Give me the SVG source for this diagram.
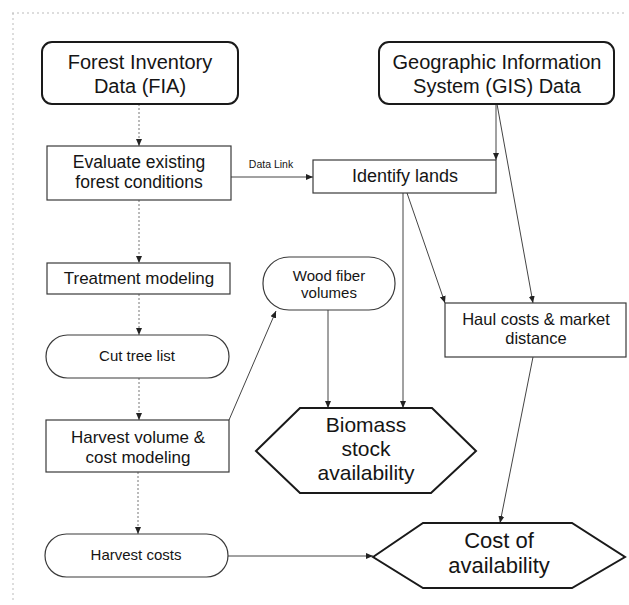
<svg xmlns="http://www.w3.org/2000/svg" width="629" height="605" viewBox="0 0 629 605">
<defs>
<style>
.t{font-family:"Liberation Sans",Arial,sans-serif;fill:#151515;text-anchor:middle}
.big{stroke:#1a1a1a;stroke-width:2;fill:#fff}
.box{stroke:#3a3a3a;stroke-width:1.2;fill:#fff}
.ln{stroke:#444;stroke-width:1;fill:none}
.dot{stroke:#777;stroke-width:1;stroke-dasharray:2,2;fill:none}
.frame{stroke:#bbb;stroke-width:1;stroke-dasharray:2,3;fill:none}
</style>
<marker id="ah" markerWidth="8" markerHeight="8" refX="7" refY="4" orient="auto" markerUnits="userSpaceOnUse">
<path d="M0,1 L7,4 L0,7 Z" fill="#222"/>
</marker>
</defs>
<rect width="629" height="605" fill="#fff"/>
<path class="frame" d="M12,13 L626,13 M13,13 L13,602"/>

<g id="connectors">
<path class="dot" d="M139,104 L139,146" marker-end="url(#ah)"/>
<path class="ln" d="M231,177 L313,177" marker-end="url(#ah)"/>
<text class="t" x="271" y="168" font-size="10.5">Data Link</text>
<path class="ln" d="M496,104 L496,160" marker-end="url(#ah)"/>
<path class="ln" d="M497,104 L533,303" marker-end="url(#ah)"/>
<path class="ln" d="M407,193 L445,303" marker-end="url(#ah)"/>
<path class="ln" d="M403,193 L403,408" marker-end="url(#ah)"/>
<path class="dot" d="M139,200 L139,263" marker-end="url(#ah)"/>
<path class="dot" d="M139,294 L139,335" marker-end="url(#ah)"/>
<path class="dot" d="M139,378 L139,420" marker-end="url(#ah)"/>
<path class="ln" d="M229,420 L276,311" marker-end="url(#ah)"/>
<path class="ln" d="M328,310 L328,408" marker-end="url(#ah)"/>
<path class="dot" d="M138,472 L138,534" marker-end="url(#ah)"/>
<path class="ln" d="M228,556 L373,556" marker-end="url(#ah)"/>
<path class="ln" d="M533,357 L500,523" marker-end="url(#ah)"/>
</g>

<g id="fia">
<rect class="big" x="42" y="42" width="196" height="62" rx="10"/>
<text class="t" x="140" y="69" font-size="20">Forest Inventory</text>
<text class="t" x="140" y="93" font-size="20">Data (FIA)</text>
</g>
<g id="gis">
<rect class="big" x="379" y="42" width="235" height="62" rx="10"/>
<text class="t" x="497" y="69" font-size="20">Geographic Information</text>
<text class="t" x="497" y="93" font-size="20">System (GIS) Data</text>
</g>
<g id="evaluate">
<rect class="box" x="47" y="146" width="184" height="54"/>
<text class="t" x="139" y="168" font-size="17.5">Evaluate existing</text>
<text class="t" x="139" y="188" font-size="17.5">forest conditions</text>
</g>
<g id="identify">
<rect class="box" x="313" y="160" width="183" height="33"/>
<text class="t" x="405" y="182" font-size="18">Identify lands</text>
</g>
<g id="treatment">
<rect class="box" x="47" y="263" width="183" height="31"/>
<text class="t" x="139" y="284" font-size="17">Treatment modeling</text>
</g>
<g id="cuttree">
<rect class="box" x="46" y="335" width="183" height="43" rx="21.5"/>
<text class="t" x="137" y="361" font-size="15">Cut tree list</text>
</g>
<g id="woodfiber">
<rect class="box" x="263" y="257" width="132" height="53" rx="26"/>
<text class="t" x="329" y="281" font-size="15">Wood fiber</text>
<text class="t" x="329" y="298" font-size="15">volumes</text>
</g>
<g id="harvestvolume">
<rect class="box" x="46" y="420" width="183" height="52"/>
<text class="t" x="138" y="443" font-size="17">Harvest volume &amp;</text>
<text class="t" x="138" y="463" font-size="17">cost modeling</text>
</g>
<g id="harvestcosts">
<rect class="box" x="45" y="534" width="183" height="43" rx="21.5"/>
<text class="t" x="136" y="560" font-size="15">Harvest costs</text>
</g>
<g id="haul">
<rect class="box" x="445" y="303" width="181" height="54"/>
<text class="t" x="536" y="325" font-size="16.5">Haul costs &amp; market</text>
<text class="t" x="536" y="344" font-size="16.5">distance</text>
</g>
<g id="biomass">
<polygon class="big" points="256,451 300,408 432,408 476,451 431,493 300,493"/>
<text class="t" x="366" y="432" font-size="21">Biomass</text>
<text class="t" x="366" y="456" font-size="21">stock</text>
<text class="t" x="366" y="480" font-size="21">availability</text>
</g>
<g id="cost">
<polygon class="big" points="373,557 423,523 572,523 625,557 572,588 423,588"/>
<text class="t" x="499" y="548" font-size="22">Cost of</text>
<text class="t" x="499" y="573" font-size="22">availability</text>
</g>
</svg>
